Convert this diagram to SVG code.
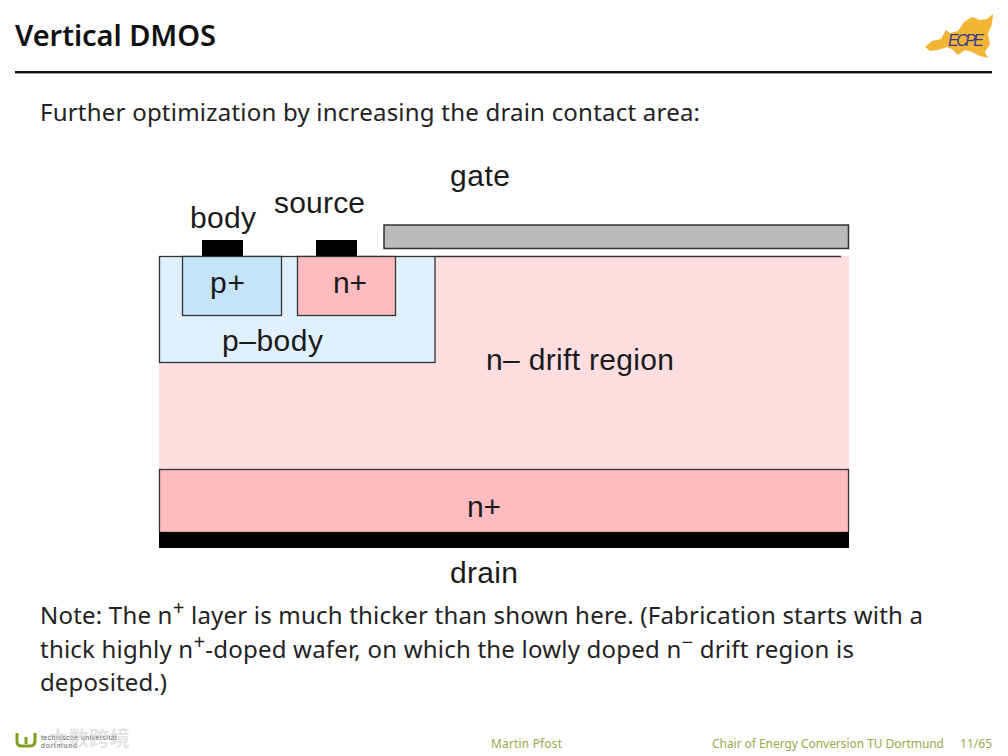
<svg xmlns="http://www.w3.org/2000/svg" width="1008" height="756" viewBox="0 0 1008 756">
<style>
.b{font-family:"Noto Sans","Liberation Sans",sans-serif;font-size:24px;fill:#222}
.s{font-family:"Liberation Sans",sans-serif;font-size:20px}
.d{font-family:"Liberation Sans",Arial,sans-serif;font-size:30px;fill:#1a1a1a}
.f{font-family:"Noto Sans","Liberation Sans",sans-serif;font-size:12px;fill:#9aa84a}
.l{stroke:#333;stroke-width:1.3}
</style>
<rect width="1008" height="756" fill="#fff"/>
<g id="header">
<text x="15" y="46" font-family="'Noto Sans','Liberation Sans',sans-serif" font-size="29" font-weight="600" fill="#111" textLength="201">Vertical DMOS</text>
<rect x="15" y="71" width="977" height="2.4" fill="#111"/>
</g>
<g id="logo">
<path d="M925 47 L932 41 L941 39 L946 30 L950 33 L958 31 L964 22 L972 17 L980 20 L987 19 L993 14 L992 24 L988 34 L990 44 L985 52 L988 58 L980 56 L972 52 L965 50 L958 55 L953 50 L947 47 L938 50 L930 51Z" fill="#f2b535"/>
<text x="948" y="46" font-family="'Liberation Sans',sans-serif" font-size="16" font-style="italic" fill="#3a3a8c" textLength="36">ECPE</text>
</g>
<text class="b" x="40" y="121" textLength="660">Further optimization by increasing the drain contact area:</text>
<g id="drift-region">
<rect x="159" y="256" width="690" height="214" fill="#ffdde1"/>
<path class="l" d="M435 256.500H841" fill="none"/>
<text class="d" x="486" y="370" textLength="188">n– drift region</text>
</g>
<g id="p-body">
<rect class="l" x="159.500" y="256.500" width="275.500" height="106" fill="#e0f0fc"/>
<text class="d" x="222" y="351" textLength="101">p–body</text>
</g>
<g id="p-plus">
<rect class="l" x="182.500" y="256.500" width="99" height="59" fill="#c5e4f8"/>
<text class="d" x="210" y="293" textLength="35">p+</text>
</g>
<g id="n-plus-source">
<rect class="l" x="297.500" y="256.500" width="98" height="59" fill="#ffbcc0"/>
<text class="d" x="333" y="293" textLength="34">n+</text>
</g>
<g id="body-contact">
<rect x="202" y="240" width="41" height="16" fill="#000"/>
<text class="d" x="190" y="228" textLength="66">body</text>
</g>
<g id="source-contact">
<rect x="316" y="240" width="41" height="16" fill="#000"/>
<text class="d" x="274" y="213" textLength="91">source</text>
</g>
<g id="gate">
<rect x="384" y="225" width="464.500" height="23.500" fill="#bbb" stroke="#333" stroke-width="1.500"/>
<text class="d" x="450" y="186" textLength="60">gate</text>
</g>
<g id="n-plus-substrate">
<rect class="l" x="159.500" y="469.500" width="689" height="63" fill="#ffbcc0"/>
<text class="d" x="467" y="517" textLength="34">n+</text>
</g>
<g id="drain">
<rect x="159" y="532" width="690" height="16" fill="#000"/>
<text class="d" x="450" y="583" textLength="68">drain</text>
</g>
<g id="note">
<text class="b" x="40" y="624" textLength="883">Note: The n<tspan class="s" dy="-9">+</tspan><tspan dy="9"> layer is much thicker than shown here. (Fabrication starts with a</tspan></text>
<text class="b" x="40" y="658" textLength="814">thick highly n<tspan class="s" dy="-9">+</tspan><tspan dy="9">-doped wafer, on which the lowly doped n</tspan><tspan class="s" dy="-9">−</tspan><tspan dy="9"> drift region is</tspan></text>
<text class="b" x="40" y="691" textLength="127">deposited.)</text>
</g>
<g id="footer">
<text class="f" x="491" y="748" textLength="71">Martin Pfost</text>
<text class="f" x="712" y="748" textLength="232">Chair of Energy Conversion TU Dortmund</text>
<text class="f" x="960" y="748" textLength="32">11/65</text>
<path d="M17 733V742Q17 746 22 746H30Q35 746 35 741V733M26 737V744" fill="none" stroke="#7fa020" stroke-width="3"/>
<text x="41" y="740" font-family="'Liberation Sans',sans-serif" font-size="7" fill="#555" textLength="76">technische universität</text>
<text x="41" y="748" font-family="'Liberation Sans',sans-serif" font-size="7" fill="#555" textLength="36">dortmund</text>
<text x="48" y="746" font-family="'Noto Sans CJK SC',sans-serif" font-size="20" font-weight="700" fill="#ccc" fill-opacity=".55" textLength="82">大数跨境</text>
</g>
</svg>
